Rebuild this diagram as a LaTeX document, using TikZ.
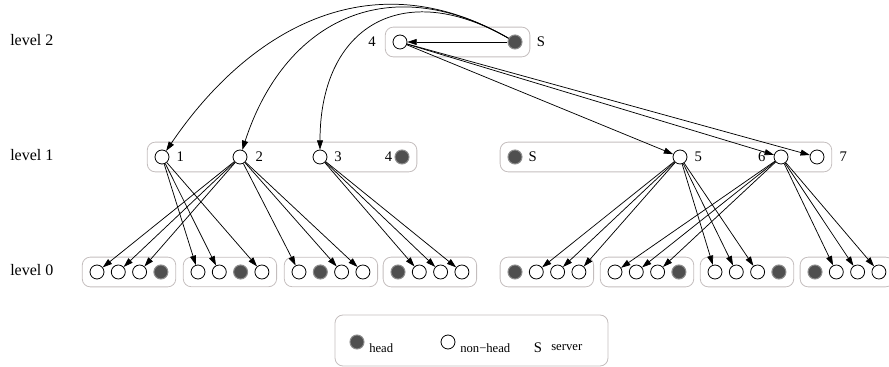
\documentclass[tikz,border=0pt]{standalone}
\usepackage{fontspec}
\setmainfont{Liberation Serif}
\usepackage{tikz}
\usetikzlibrary{arrows.meta, positioning, fit}
\definecolor{headGray}{HTML}{4F4F4F}
\definecolor{headRim}{HTML}{8C8C8C}
\definecolor{boxGray}{HTML}{C4BEBE}

\begin{document}
\begin{tikzpicture}[
    x=0.75pt, y=0.75pt,
    member/.style={circle, draw, line width=0.6pt, fill=white,
                   minimum size=10.5pt, inner sep=0pt},
    head/.style={circle, draw=headRim, line width=0.8pt, fill=headGray,
                 minimum size=10.5pt, inner sep=0pt},
    grp/.style={draw=boxGray, line width=0.6pt, rounded corners=6pt,
                inner sep=5.5pt},
    lbl/.style={inner sep=0pt, font=\fontsize{11}{13}\selectfont},
    lvl/.style={anchor=west, inner sep=0pt, font=\fontsize{12}{14}\selectfont},
    legtxt/.style={anchor=west, inner sep=0pt, font=\fontsize{9.5}{11}\selectfont},
    arrow/.style={-{Triangle[length=7pt, width=4.5pt]}, line width=0.55pt},
]
\useasboundingbox (0,0) rectangle (889,367);

% Level names
\node[lvl] (lv2) at (10,327) {level 2};
\node[lvl] (lv1) at (10,212) {level 1};
\node[lvl] (lv0) at (10,97) {level 0};

% Level 2
\node[member] (t4) at (400,325) {};
\node[head] (tS) at (515,325) {};
\node[grp, fit=(t4)(tS)] (top) {};
\node[lbl, left=12.5pt of t4] (t4l) {4};
\node[lbl, right=10.5pt of tS] (tSl) {S};

% Level 1
\node[member] (n1) at (162,210) {};
\node[member] (n2) at (240,210) {};
\node[member] (n3) at (320,210) {};
\node[head] (h4) at (402,210) {};
\node[grp, fit=(n1)(h4)] (midL) {};
\node[lbl, right=5.2pt of n1] (n1l) {1};
\node[lbl, right=6pt of n2] (n2l) {2};
\node[lbl, right=5pt of n3] (n3l) {3};
\node[lbl, left=1.5pt of h4] (h4l) {4};

\node[head] (hS) at (515,210) {};
\node[member] (n5) at (680,210) {};
\node[member] (n6) at (781,210) {};
\node[member] (n7) at (817,210) {};
\node[grp, fit=(hS)(n7)] (midR) {};
\node[lbl, right=4.3pt of hS] (hSl) {S};
\node[lbl, right=5.2pt of n5] (n5l) {5};
\node[lbl, left=6pt of n6] (n6l) {6};
\node[lbl, right=11.2pt of n7] (n7l) {7};

% Level 0 (group / first x / head position)
\foreach \g/\x/\h in {1/97/4, 2/198/3, 3/299/2, 4/398/1,
                      5/515/1, 6/615/4, 7/715/4, 8/815/1} {
  \foreach \i in {1,...,4} {
    \ifnum\i=\h
      \node[head] (c\g\i) at ({\x+21.3*(\i-1)},95) {};
    \else
      \node[member] (c\g\i) at ({\x+21.3*(\i-1)},95) {};
    \fi
  }
  \node[grp, fit=(c\g1)(c\g4)] (box\g) {};
}

% Server links
\draw[arrow] (tS) -- (t4);
\draw[arrow] (tS) .. controls (368,410) and (246,334) .. (n1);
\draw[arrow] (tS) .. controls (385,400) and (283,343) .. (n2);
\draw[arrow] (tS) .. controls (402,390) and (320,340) .. (n3);
\foreach \t in {n5,n6,n7} \draw[arrow] (t4) -- (\t);

% Level 1 to level 0
\foreach \t in {21,22,24} \draw[arrow] (n1) -- (c\t);
\foreach \t in {11,12,13,31,33,34} \draw[arrow] (n2) -- (c\t);
\foreach \t in {42,43,44} \draw[arrow] (n3) -- (c\t);
\foreach \t in {52,53,54,71,72,73} \draw[arrow] (n5) -- (c\t);
\foreach \t in {61,62,63,82,83,84} \draw[arrow] (n6) -- (c\t);

% Legend
\draw[draw=boxGray, line width=0.6pt, rounded corners=6pt] (335,1) rectangle (608,52);
\node[head] (kh) at (357,25) {};
\node[legtxt] (kht) at (369,19) {head};
\node[member] (kn) at (448,25) {};
\node[legtxt] (knt) at (460,19) {non−head};
\node[lbl] (ks) at (538,19) {S};
\node[legtxt] (kst) at (551,19) {server};
\end{tikzpicture}
\end{document}
